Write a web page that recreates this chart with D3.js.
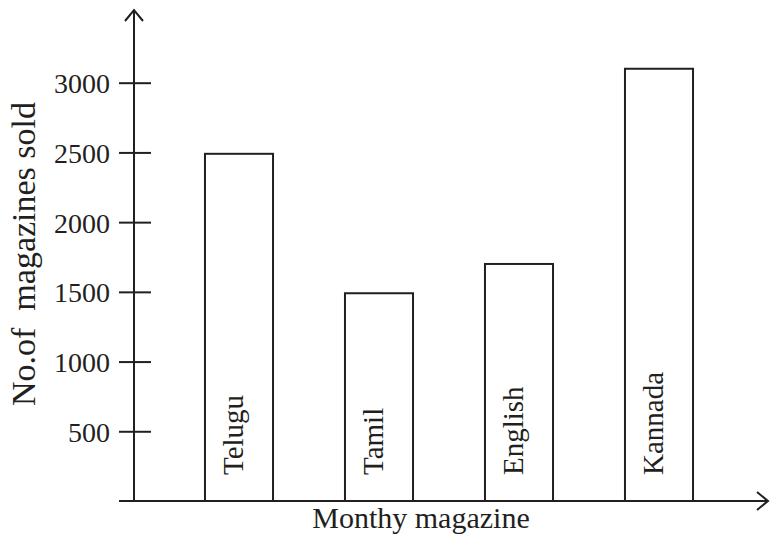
<!DOCTYPE html>
<html>
<head>
<meta charset="utf-8">
<script src="https://cdn.jsdelivr.net/npm/d3@7"></script>
<style>
  html, body { margin: 0; padding: 0; background: #fff; }
  svg { display: block; }
  svg text { font-family: 'Liberation Serif', 'Times New Roman', serif; }
</style>
</head>
<body>
<svg id="chart"></svg>
<script>
(function() {

  const magazines = ['Telugu', 'Tamil', 'English', 'Kannada'];
  const sold = [2490, 1490, 1700, 3100];
  const yTicks = [500, 1000, 1500, 2000, 2500, 3000];

  const xTitle = 'Monthy magazine';
  const yTitle = 'No.of\u00a0\u00a0magazines sold';

  const width = 770;
  const height = 535;
  const ink = '#231f20';

  const axisX = 134;
  const baseY = 501;

  const svg = d3.select('#chart')
    .attr('width', width)
    .attr('height', height);

  const y = d3.scaleLinear().domain([0, 3000]).range([baseY, 82.7]);
  const x = d3.scaleBand().domain(magazines).range([169, 729])
    .paddingInner(0.514).paddingOuter(0.257);

  const rows = magazines.map(function(m, i) {
    return { name: m, value: sold[i] };
  });

  // bars
  svg.append('g').attr('class', 'bars')
    .selectAll('rect')
    .data(rows)
    .enter()
    .append('rect')
    .attr('x', function(d) { return x(d.name); })
    .attr('y', function(d) { return y(d.value); })
    .attr('width', x.bandwidth())
    .attr('height', function(d) { return baseY - y(d.value); })
    .attr('fill', 'none')
    .attr('stroke', ink)
    .attr('stroke-width', 2);

  // bar labels, rotated
  svg.append('g').attr('class', 'bar-labels')
    .selectAll('text')
    .data(rows)
    .enter()
    .append('text')
    .attr('transform', function(d) {
      return 'translate(' + (x(d.name) + x.bandwidth() / 2 + 4) + ',' + (baseY - 26) + ') rotate(-90)';
    })
    .style('font-size', '29px')
    .attr('fill', ink)
    .text(function(d) { return d.name; });

  // y axis
  const yAxis = d3.axisLeft(y).tickValues(yTicks).tickSizeOuter(0).tickFormat(d3.format('d'));
  const yg = svg.append('g')
    .attr('transform', 'translate(' + axisX + ',0)')
    .call(yAxis);
  yg.select('.domain').remove();
  yg.selectAll('.tick line')
    .attr('x1', -15).attr('x2', 17)
    .attr('stroke', ink).attr('stroke-width', 2);
  yg.selectAll('.tick text')
    .attr('x', -24)
    .attr('dy', '0.36em')
    .style('font-size', '28px')
    .style('font-family', "'Liberation Serif', 'Times New Roman', serif")
    .attr('fill', ink);

  // axis lines with arrows
  const axes = svg.append('g').attr('stroke', ink).attr('stroke-width', 2).attr('fill', 'none');
  axes.append('line').attr('x1', axisX).attr('y1', baseY).attr('x2', axisX).attr('y2', 10);
  axes.append('path').attr('d', 'M' + (axisX - 9) + ',21 L' + axisX + ',10 L' + (axisX + 9) + ',21');
  axes.append('line').attr('x1', 119).attr('y1', baseY).attr('x2', 768).attr('y2', baseY);
  axes.append('path').attr('d', 'M757,492 L768,' + baseY + ' L757,510');

  // titles
  svg.append('text')
    .attr('x', 421)
    .attr('y', 528)
    .attr('text-anchor', 'middle')
    .style('font-size', '30px')
    .attr('fill', ink)
    .text(xTitle);

  svg.append('text')
    .attr('transform', 'translate(35,254) rotate(-90)')
    .attr('text-anchor', 'middle')
    .style('font-size', '34px')
    .attr('fill', ink)
    .text(yTitle);
})();
</script>
</body>
</html>
